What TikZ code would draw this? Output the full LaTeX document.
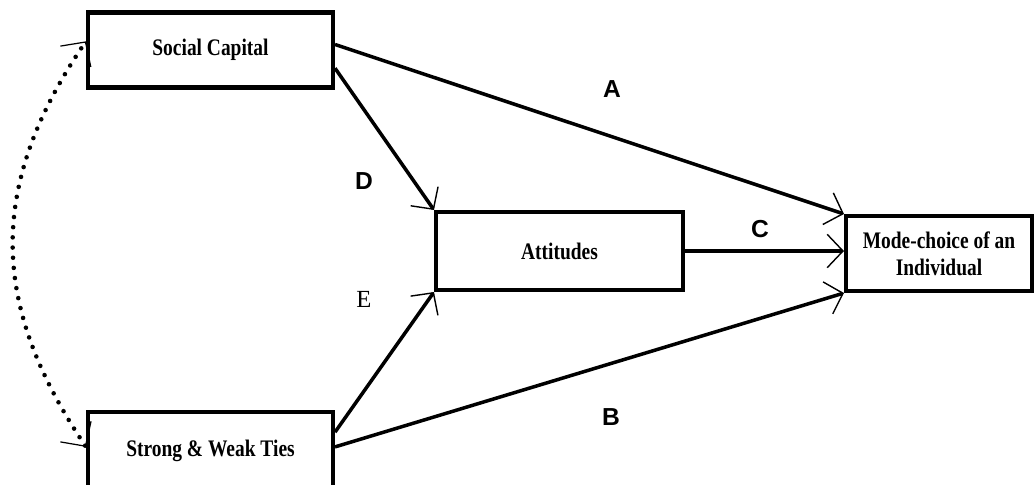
\documentclass[tikz,border=0pt]{standalone}
\usepackage{fontspec}
\setmainfont{Liberation Serif}
\newfontfamily\boxfont{Liberation Serif}[FakeStretch=0.82]
\newfontfamily\labfont{Liberation Sans}
\usetikzlibrary{arrows.meta,calc}
\tikzset{
  factor/.style={draw, line width=2.3pt, minimum width=245*0.02cm, minimum height=75*0.02cm,
    align=center, font=\boxfont\bfseries\fontsize{13.5}{15.5}\selectfont, inner sep=0pt},
  path/.style={line width=2pt, -{Straight Barb[length=9pt, width=19pt, line width=0.8pt]}},
  corr/.style={line width=2.6pt, line cap=round, dash pattern=on 0pt off 5.8pt,
    {Straight Barb[length=10pt, width=21pt, line width=0.7pt]}-{Straight Barb[length=10pt, width=21pt, line width=0.7pt]}},
  tag/.style={font=\labfont\bfseries\fontsize{14}{16}\selectfont}
}
\begin{document}
\begin{tikzpicture}[x=0.02cm, y=-0.02cm]
            \useasboundingbox (0,0) rectangle (1035,484);
            % Nodes with manual coordinates
            \node[factor] (sc) at (210.5,50) {Social Capital};
            \node[factor, minimum height=78*0.02cm] (ties) at (210.5,451) {Strong \& Weak Ties};
            \node[factor, minimum width=247*0.02cm, minimum height=78*0.02cm] (att) at (559.5,251) {Attitudes};
            \node[factor, minimum width=186*0.02cm] (mode) at (939,253.5) {Mode-choice of an\\ Individual};

            % Edges
            \draw[path] ($(sc.north east)!0.43!(sc.south east)$) -- (mode.north west);
            \draw[path] ($(sc.north east)!0.73!(sc.south east)$) -- (att.north west);
            \draw[path] ($(ties.north east)!0.27!(ties.south east)$) -- (att.south west);
            \draw[path] ($(ties.north east)!0.45!(ties.south east)$) -- (mode.south west);
            \draw[path] (att.east) -- (att.east -| mode.west);
            \draw[corr] ($(ties.north west)!0.45!(ties.south west)$) .. controls (-8,307) and (-15,189) .. ($(sc.north west)!0.39!(sc.south west)$);

            % Labels
            \node[tag] (la) at (612,89) {A};
            \node[tag] (lb) at (611,417) {B};
            \node[tag] (lc) at (760,229) {C};
            \node[tag] (ld) at (364,181) {D};
            \node[font=\fontsize{14}{16}\selectfont] (le) at (364,299) {E};
\end{tikzpicture}
\end{document}
